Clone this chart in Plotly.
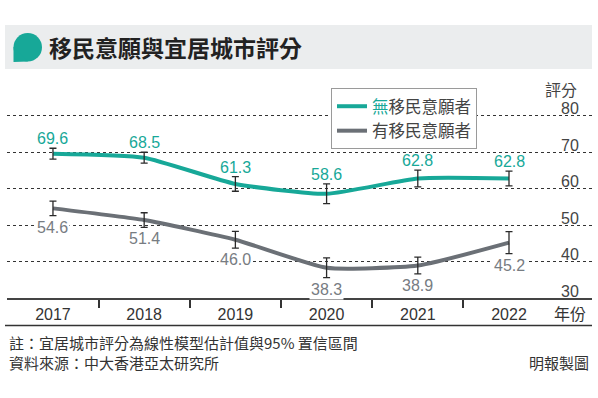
import plotly.graph_objects as go

# ---- data ----
years = ["2017", "2018", "2019", "2020", "2021", "2022"]
no_intent = [69.6, 68.5, 61.3, 58.6, 62.8, 62.8]
no_intent_ci = [1.5, 1.5, 2.0, 2.7, 2.3, 2.0]
has_intent = [54.6, 51.4, 46.0, 38.3, 38.9, 45.2]
has_intent_ci = [2.0, 2.0, 2.3, 2.7, 2.3, 3.0]
y_ticks = [30, 40, 50, 60, 70, 80]
series_names = ["無移民意願者", "有移民意願者"]

TEAL = "#17a898"
GRAY = "#6b7076"
LABEL_GRAY = "#777c82"
CJK = "Noto Sans CJK TC, Noto Sans CJK SC, sans-serif"
NUM = "Liberation Sans, Arial, Noto Sans CJK TC, sans-serif"

W, H = 598, 398
PL, PR, PT, PB = 7, 592, 114, 298
Y_RANGE = [30, 80.5]


def fx(px):
    return (px - PL) / (PR - PL)


def fy(py):
    return (PB - py) / (PB - PT)


xi = list(range(len(years)))

fig = go.Figure()

# lines
fig.add_trace(go.Scatter(
    x=xi, y=no_intent, mode="lines",
    line=dict(color=TEAL, width=4, shape="spline", smoothing=0.5),
    name='<span style="color:%s">無</span>移民意願者' % TEAL,
    hoverinfo="skip",
))
fig.add_trace(go.Scatter(
    x=xi, y=has_intent, mode="lines",
    line=dict(color=GRAY, width=4, shape="spline", smoothing=0.5),
    name=series_names[1],
    hoverinfo="skip",
))
# error bars on top
for vals, ci in ((no_intent, no_intent_ci), (has_intent, has_intent_ci)):
    fig.add_trace(go.Scatter(
        x=xi, y=vals, mode="markers",
        marker=dict(size=1, color="rgba(0,0,0,0)"),
        error_y=dict(type="data", array=ci, visible=True,
                     color="#2a2a2a", thickness=1.3, width=3.5),
        showlegend=False, hoverinfo="skip",
    ))
# invisible trace that carries the right-hand tick-label axis
fig.add_trace(go.Scatter(
    x=[xi[0], xi[-1]], y=[y_ticks[0], y_ticks[-1]], yaxis="y2",
    mode="markers", marker=dict(size=1, color="rgba(0,0,0,0)"),
    showlegend=False, hoverinfo="skip",
))

annotations = []
# value labels
for i, (v, e) in enumerate(zip(no_intent, no_intent_ci)):
    annotations.append(dict(
        x=i, y=v + e, xref="x", yref="y", text=f"{v:.1f}",
        showarrow=False, yanchor="bottom", yshift=-1,
        font=dict(family=NUM, size=16, color=TEAL),
    ))
for i, (v, e) in enumerate(zip(has_intent, has_intent_ci)):
    annotations.append(dict(
        x=i, y=v - e, xref="x", yref="y", text=f"{v:.1f}",
        showarrow=False, yanchor="top", yshift=-1,
        bgcolor="white", borderpad=1,
        font=dict(family=NUM, size=16, color=LABEL_GRAY),
    ))

# title
annotations.append(dict(
    x=fx(47), y=fy(47), xref="paper", yref="paper",
    xanchor="left", yanchor="middle", showarrow=False,
    text="移民意願與宜居城市評分",
    font=dict(family=CJK, size=23, color="#222222", weight=700),
))
# y axis title
annotations.append(dict(
    x=fx(579), y=fy(89), xref="paper", yref="paper",
    xanchor="right", yanchor="middle", showarrow=False,
    text="評分", font=dict(family=CJK, size=16, color="#444444"),
))
# footnotes
annotations.append(dict(
    x=fx(7), y=fy(342), xref="paper", yref="paper",
    xanchor="left", yanchor="middle", showarrow=False,
    text="註：宜居城市評分為線性模型估計值與95% 置信區間",
    font=dict(family=CJK, size=15, color="#333333"),
))
annotations.append(dict(
    x=fx(7), y=fy(362), xref="paper", yref="paper",
    xanchor="left", yanchor="middle", showarrow=False,
    text="資料來源：中大香港亞太研究所",
    font=dict(family=CJK, size=15, color="#333333"),
))
annotations.append(dict(
    x=fx(591), y=fy(362), xref="paper", yref="paper",
    xanchor="right", yanchor="middle", showarrow=False,
    text="明報製圖",
    font=dict(family=CJK, size=15, color="#333333"),
))

shapes = [
    # title band
    dict(type="rect", xref="paper", yref="paper",
         x0=fx(5), x1=fx(592), y0=fy(69), y1=fy(25),
         fillcolor="#ebedee", line=dict(width=0), layer="below"),
    # icon
    dict(type="circle", xref="paper", yref="paper",
         x0=fx(13.5), x1=fx(42), y0=fy(61.5), y1=fy(33),
         fillcolor=TEAL, line=dict(width=0)),
    dict(type="path", xref="paper", yref="paper",
         path="M %f,%f L %f,%f L %f,%f Z" % (
             fx(13.5), fy(47), fx(13.5), fy(62), fx(28), fy(61.5)),
         fillcolor=TEAL, line=dict(width=0)),
    # bottom rule
    dict(type="line", xref="paper", yref="paper",
         x0=fx(5), x1=fx(592), y0=fy(325.5), y1=fy(325.5),
         line=dict(color="#333333", width=1.5)),
]

fig.update_layout(
    width=W, height=H,
    margin=dict(l=PL, r=W - PR, t=PT, b=H - PB, pad=0),
    paper_bgcolor="white", plot_bgcolor="white",
    annotations=annotations, shapes=shapes,
    legend=dict(
        x=fx(331), y=fy(88), xref="paper", yref="paper",
        xanchor="left", yanchor="top",
        bgcolor="white", bordercolor="#9a9a9a", borderwidth=1,
        font=dict(family=CJK, size=16.5, color="#444444"),
        itemwidth=30, tracegroupgap=0,
    ),
    xaxis=dict(
        range=[-0.504, 5.91],
        tickmode="array",
        tickvals=xi + [5.67],
        ticktext=years + ["年份"],
        ticks="", showgrid=False, zeroline=False,
        showline=True, linecolor="#444444", linewidth=1.5,
        tickfont=dict(family=NUM, size=16, color="#333333"),
        ticklabelstandoff=1,
        minor=dict(tickmode="array", tickvals=[0.5, 1.5, 2.5, 3.5, 4.5],
                   ticks="outside", ticklen=8, tickcolor="#333333",
                   tickwidth=1.5, showgrid=False),
    ),
    yaxis=dict(
        range=Y_RANGE,
        tickmode="array", tickvals=y_ticks,
        showticklabels=False,
        showgrid=True, gridcolor="#333333", gridwidth=1, griddash="dot",
        zeroline=False, showline=False, ticks="",
    ),
    yaxis2=dict(
        range=Y_RANGE, overlaying="y", anchor="free",
        position=fx(560), side="right",
        tickmode="array", tickvals=y_ticks,
        showgrid=False, zeroline=False, showline=False, ticks="",
        ticklabelshift=-7,
        tickfont=dict(family=NUM, size=16, color="#444444"),
    ),
    showlegend=True,
)

fig.write_html(
    "out.html",
    config={"displayModeBar": False},
    post_script="document.body.style.margin='0';document.body.style.overflow='hidden';",
)
